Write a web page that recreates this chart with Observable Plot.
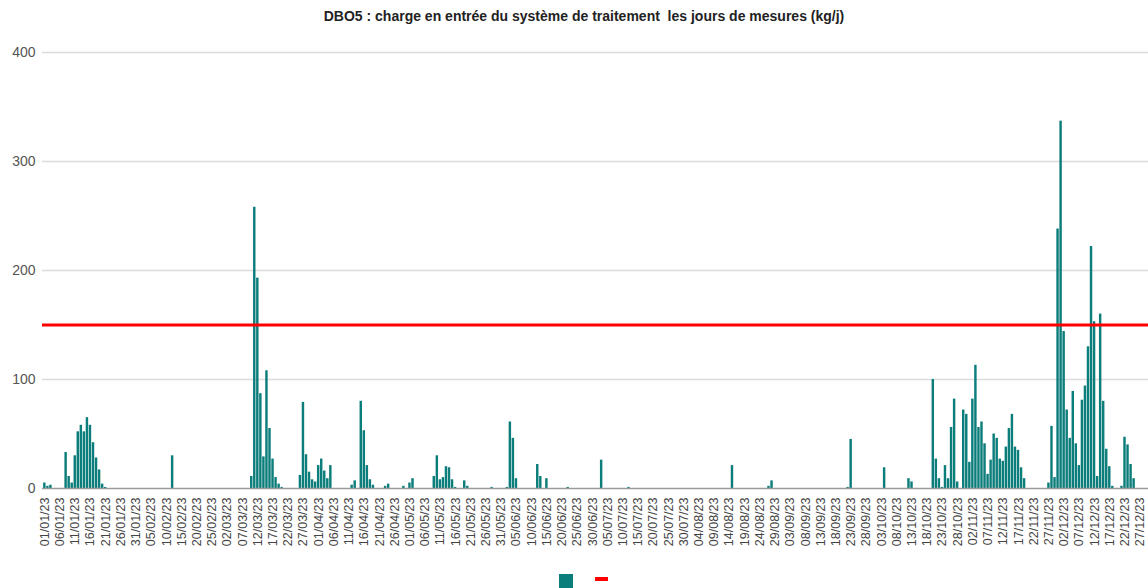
<!DOCTYPE html>
<html>
<head>
<meta charset="utf-8">
<script src="https://cdn.jsdelivr.net/npm/d3@7"></script>
<script src="https://cdn.jsdelivr.net/npm/@observablehq/plot@0.6"></script>
<style>
  html, body { margin: 0; padding: 0; background: #fff; overflow: hidden; }
  body { width: 1148px; height: 588px; position: relative; font-family: "Liberation Sans", Arial, sans-serif; }
  #title { position: absolute; left: 20px; right: 0; top: 8px; text-align: center; font-weight: bold; font-size: 14px; color: #222; white-space: pre; }
  #chart { position: absolute; left: 0; top: 34px; }
  #legend { position: absolute; top: 574px; left: 559px; display: flex; align-items: center; gap: 22px; }
  .sw-bar { width: 14px; height: 14px; background: #0b7d7a; }
  .sw-line { width: 13px; height: 4px; background: #ff0000; margin-top: -4px; }
</style>
</head>
<body>
<div id="title">DBO5 : charge en entrée du système de traitement  les jours de mesures (kg/j)</div>
<div id="chart"></div>
<div id="legend"><div class="sw-bar"></div><div class="sw-line"></div></div>
<script>
// Jours de mesure (jj/mm/aa) et charge DBO5 (kg/j)
const jours = [
  "01/01/23","02/01/23","03/01/23","08/01/23","09/01/23","10/01/23","11/01/23","12/01/23","13/01/23","14/01/23",
  "15/01/23","16/01/23","17/01/23","18/01/23","19/01/23","20/01/23","21/01/23","12/02/23",
  "10/03/23","11/03/23","12/03/23","13/03/23","14/03/23","15/03/23","16/03/23","17/03/23","18/03/23","19/03/23","20/03/23",
  "26/03/23","27/03/23","28/03/23","29/03/23","30/03/23","31/03/23","01/04/23","02/04/23","03/04/23","04/04/23","05/04/23",
  "12/04/23","13/04/23","15/04/23","16/04/23","17/04/23","18/04/23","19/04/23","23/04/23","24/04/23","29/04/23","01/05/23","02/05/23",
  "09/05/23","10/05/23","11/05/23","12/05/23","13/05/23","14/05/23","15/05/23","16/05/23","19/05/23","20/05/23",
  "28/05/23","02/06/23","03/06/23","04/06/23","05/06/23","12/06/23","13/06/23","15/06/23","22/06/23","03/07/23","12/07/23",
  "15/08/23","27/08/23","28/08/23","22/09/23","23/09/23","04/10/23","12/10/23","13/10/23",
  "20/10/23","21/10/23","22/10/23","23/10/23","24/10/23","25/10/23","26/10/23","27/10/23","28/10/23","30/10/23","31/10/23",
  "01/11/23","02/11/23","03/11/23","04/11/23","05/11/23","06/11/23","07/11/23","08/11/23","09/11/23","10/11/23",
  "11/11/23","12/11/23","13/11/23","14/11/23","15/11/23","16/11/23","17/11/23","18/11/23","19/11/23",
  "27/11/23","28/11/23","29/11/23","30/11/23","01/12/23","02/12/23","03/12/23","04/12/23","05/12/23","06/12/23",
  "07/12/23","08/12/23","09/12/23","10/12/23","11/12/23","12/12/23","13/12/23","14/12/23","15/12/23","16/12/23",
  "17/12/23","18/12/23","21/12/23","22/12/23","23/12/23","24/12/23","25/12/23"
];
const dbo5 = [
  5,2,3,33,11,5,30,52,58,52,
  65,58,42,28,17,4,1,30,
  11,258,193,87,29,108,55,27,10,4,1,
  12,79,31,15,8,6,21,27,16,9,21,
  3,7,80,53,21,8,3,2,4,2,5,9,
  11,30,8,10,20,19,8,1,7,2,
  1,1,61,46,9,22,11,9,1,26,1,
  21,2,7,1,45,19,9,6,
  100,27,9,1,21,9,56,82,6,72,68,
  24,82,113,56,61,41,13,26,50,46,
  27,25,38,55,68,38,35,19,9,
  5,57,10,238,337,144,72,46,89,41,
  21,81,94,130,222,153,11,160,80,36,
  20,2,2,47,40,22,9
];
const seuil = 150;
const yTicks = [0, 100, 200, 300, 400];

// Toutes les journées de 2023 (catégories de l'axe x)
const fmt = d3.utcFormat("%d/%m/%y");
const calendrier = d3.utcDay.range(new Date(Date.UTC(2023,0,1)), new Date(Date.UTC(2024,0,1))).map(fmt);
const xTicks = calendrier.filter((d, i) => i % 5 === 0);

const data = jours.map((j, i) => ({jour: j, valeur: dbo5[i]}));

const step = 3.0444;
const x0 = 42.5;
const chart = Plot.plot({
  width: 1148,
  height: 530,
  marginTop: 18,
  marginBottom: 76,
  marginLeft: 42,
  marginRight: 0,
  style: {fontFamily: "'Liberation Sans', Arial, sans-serif", color: "#444", background: "transparent"},
  x: {type: "band", domain: calendrier, range: [x0, x0 + step * calendrier.length], padding: 0.2, round: false},
  y: {domain: [0, 400], range: [454, 18]},
  marks: [
    Plot.ruleY(yTicks.slice(1), {stroke: "#dcdcdc", strokeWidth: 1.5}),
    Plot.barY(data, {x: "jour", y: "valeur", fill: "#0b7d7a"}),
    Plot.ruleY([0], {stroke: "#9a9a9a", strokeWidth: 1.5}),
    Plot.ruleY([seuil], {stroke: "#ff0000", strokeWidth: 3}),
    Plot.axisY({ticks: yTicks, tickSize: 0, tickPadding: 7, fontSize: 14, fill: "#555", label: null}),
    Plot.axisX({ticks: xTicks, tickSize: 0, tickPadding: 9, tickRotate: -90, fontSize: 12.5, fill: "#444", label: null})
  ]
});
document.getElementById("chart").appendChild(chart);
</script>
</body>
</html>
